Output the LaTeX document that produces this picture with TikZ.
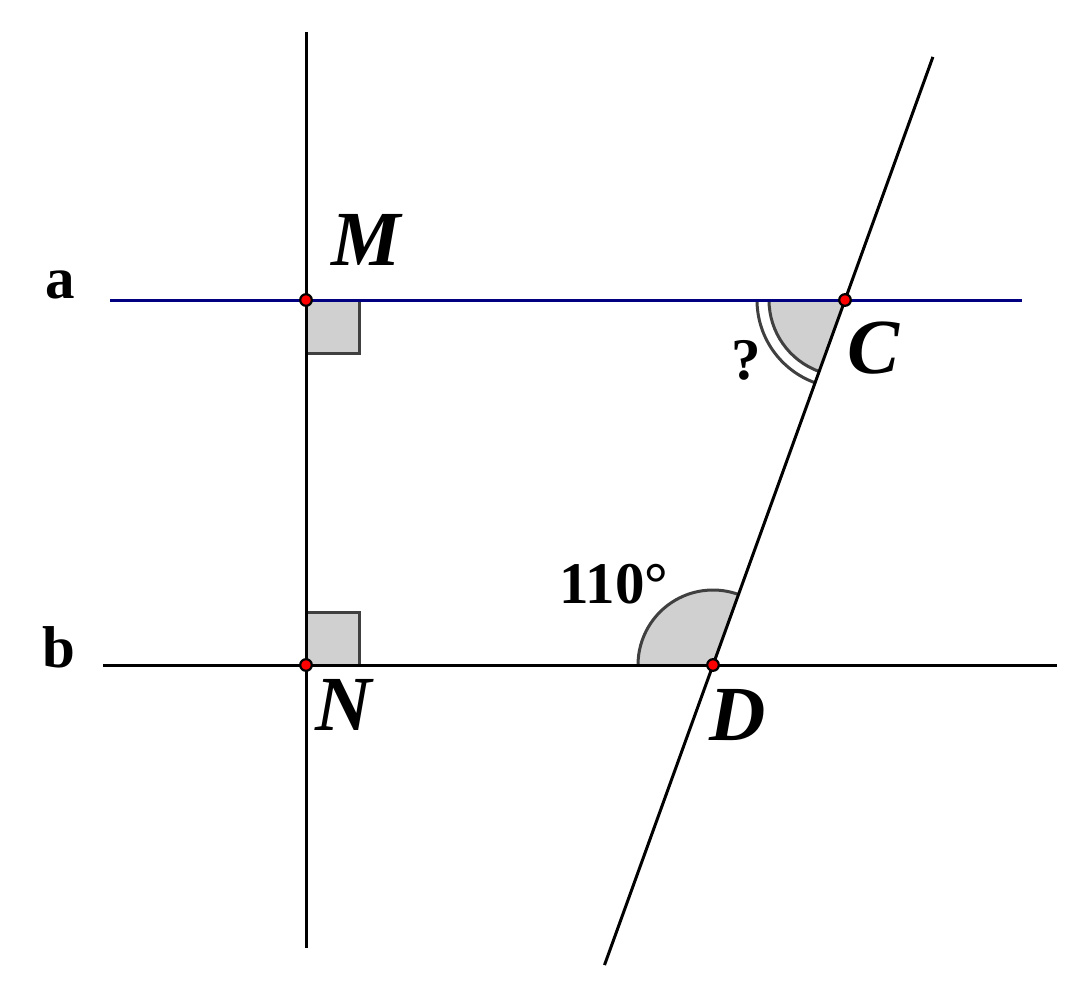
\documentclass[tikz,border=0pt]{standalone}
\usepackage{fontspec}
\setmainfont{Liberation Serif}
\usetikzlibrary{calc}
\definecolor{navy}{RGB}{0,0,128}
\definecolor{anglefill}{RGB}{208,208,208}
\definecolor{anglestroke}{RGB}{64,64,64}
\begin{document}
\begin{tikzpicture}[x=1pt,y=1pt,
  geoline/.style={line width=3pt, black},
  blueline/.style={line width=3pt, navy},
  anglearc/.style={line width=3pt, anglestroke},
  anglesector/.style={fill=anglefill},
  ptdot/.style={fill=red, draw=black, line width=2.2pt},
  ptlabel/.style={inner sep=0pt, font=\fontsize{78}{82}\selectfont\bfseries\itshape},
  linelabel/.style={inner sep=0pt, font=\fontsize{59}{62}\selectfont\bfseries}]
\useasboundingbox (0,0) rectangle (1089,-998);
% points
\coordinate (M) at (306,-300);
\coordinate (N) at (306,-665);
\coordinate (C) at (845,-300);
\coordinate (D) at (713,-665);
% line ends
\coordinate (vTop) at (306,-32);
\coordinate (vBot) at (306,-948);
\coordinate (aL) at (110,-300);
\coordinate (aR) at (1022,-300);
\coordinate (bL) at (103,-665);
\coordinate (bR) at (1057,-665);
\coordinate (sTop) at ($(D)!1.666!(C)$);
\coordinate (sBot) at ($(C)!1.822!(D)$);
% right angle marks
\fill[anglesector] (M) rectangle ++(53,-53);
\draw[anglearc] ($(M)+(53,0)$) -- ++(0,-53) -- ++(-53,0);
\fill[anglesector] (N) rectangle ++(53,53);
\draw[anglearc] ($(N)+(53,0)$) -- ++(0,53) -- ++(-53,0);
% angle at D (110 deg)
\fill[anglesector] (D) -- ++(180:75) arc[start angle=180, end angle=70.12, radius=75] -- cycle;
\draw[anglearc] ($(D)+(180:75)$) arc[start angle=180, end angle=70.12, radius=75];
% angle at C (double arc)
\fill[anglesector] (C) -- ++(180:76) arc[start angle=180, end angle=250.12, radius=76] -- cycle;
\draw[anglearc] ($(C)+(180:76)$) arc[start angle=180, end angle=250.12, radius=76];
\draw[anglearc] ($(C)+(180:88)$) arc[start angle=180, end angle=250.12, radius=88];
% lines
\draw[geoline] (vTop) -- (vBot);
\draw[geoline] (bL) -- (bR);
\draw[geoline] (sTop) -- (sBot);
\draw[blueline] (aL) -- (aR);
% dots
\foreach \p in {M,N,C,D} \filldraw[ptdot] (\p) circle (5.8);
% labels
\node[ptlabel] (lblM) at (366,-240) {M};
\node[ptlabel] (lblC) at (874,-348) {C};
\node[ptlabel] (lblN) at (344,-705) {N};
\node[ptlabel] (lblD) at (738,-715) {D};
\node[linelabel] (lbla) at (60,-285) {a};
\node[linelabel] (lblb) at (59,-647) {b};
\node[linelabel] (lbl110) at (614,-584) {110°};
\node[linelabel] (lblq) at (746,-360) {?};
\end{tikzpicture}
\end{document}
